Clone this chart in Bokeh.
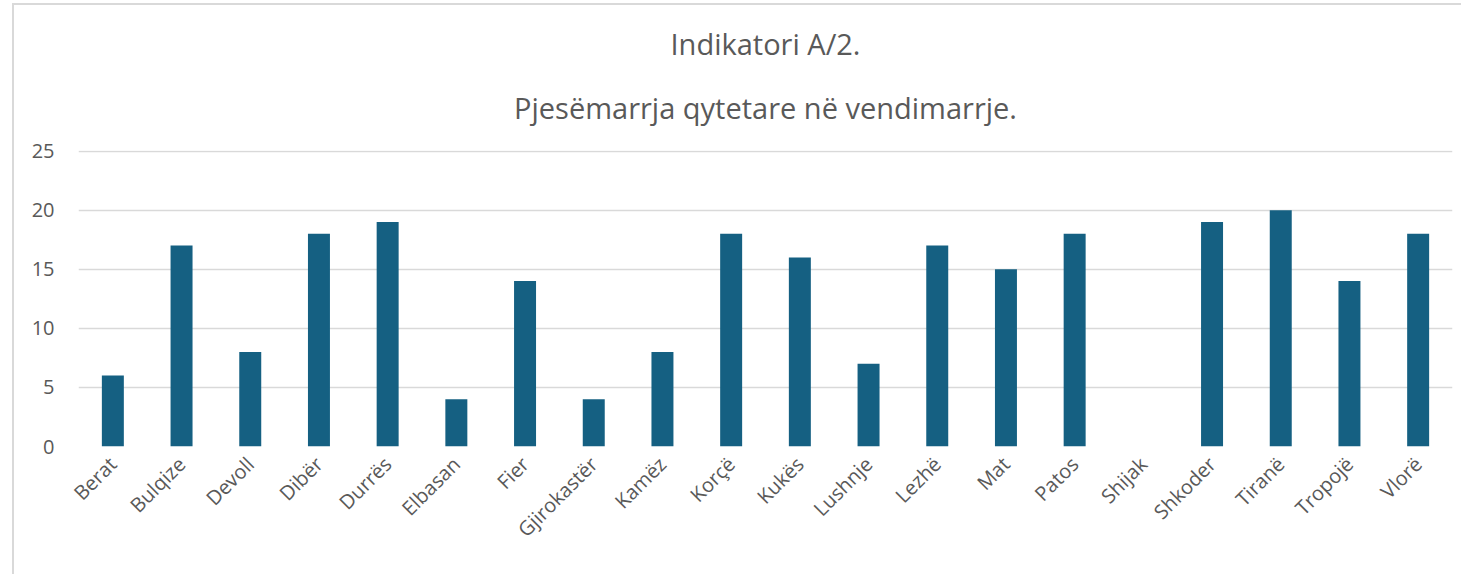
import math
from bokeh.plotting import figure
from bokeh.models import Title, Range1d, FactorRange
from bokeh.embed import file_html
from bokeh.resources import INLINE

cities = ["Berat", "Bulqize", "Devoll", "Dibër", "Durrës", "Elbasan", "Fier",
          "Gjirokastër", "Kamëz", "Korçë", "Kukës", "Lushnje", "Lezhë", "Mat",
          "Patos", "Shijak", "Shkoder", "Tiranë", "Tropojë", "Vlorë"]
values = [6, 17, 8, 18, 19, 4, 14, 4, 8, 18, 16, 7, 17, 15, 18, 0, 19, 20, 14, 18]
y_ticks = [0, 5, 10, 15, 20, 25]
title_lines = ["Indikatori A/2.", "Pjesëmarrja qytetare në vendimarrje."]

FONT = "Open Sans"
GRAY = "#595959"

p = figure(x_range=FactorRange(*cities, range_padding=0), y_range=Range1d(0, 25.05),
           width=1461, height=574, output_backend="svg", toolbar_location=None,
           min_border_left=78, min_border_right=9, min_border_top=150, min_border_bottom=128)

p.vbar(x=cities, top=values, width=0.32, fill_color="#156082", line_color=None)

for i, t in enumerate(reversed(title_lines)):
    p.add_layout(Title(text=t, align="center", text_font=FONT, text_font_size="29px",
                       text_font_style="normal", text_color=GRAY,
                       standoff=0 if i else 47, offset=0), "above")

p.outline_line_color = None
p.border_fill_alpha = 0
p.background_fill_alpha = 0
p.xgrid.grid_line_color = None
p.ygrid.grid_line_color = "#d9d9d9"
p.ygrid.grid_line_width = 1.5
p.yaxis.ticker = y_ticks
p.yaxis.axis_line_color = None
p.xaxis.axis_line_color = None
p.axis.major_tick_line_color = None
p.axis.minor_tick_line_color = None
p.axis.major_label_text_font = FONT
p.axis.major_label_text_font_size = "20px"
p.axis.major_label_text_color = GRAY
p.yaxis.major_label_standoff = 18
p.xaxis.major_label_standoff = 8
p.xaxis.major_label_orientation = math.pi / 4
p.styles = {
    "background": "linear-gradient(#d9d9d9,#d9d9d9) 12px 3px / 2px 100% no-repeat, "
                  "linear-gradient(#d9d9d9,#d9d9d9) 12px 3px / 100% 2px no-repeat, #ffffff"
}

open("out.html", "w").write(file_html(p, INLINE))
